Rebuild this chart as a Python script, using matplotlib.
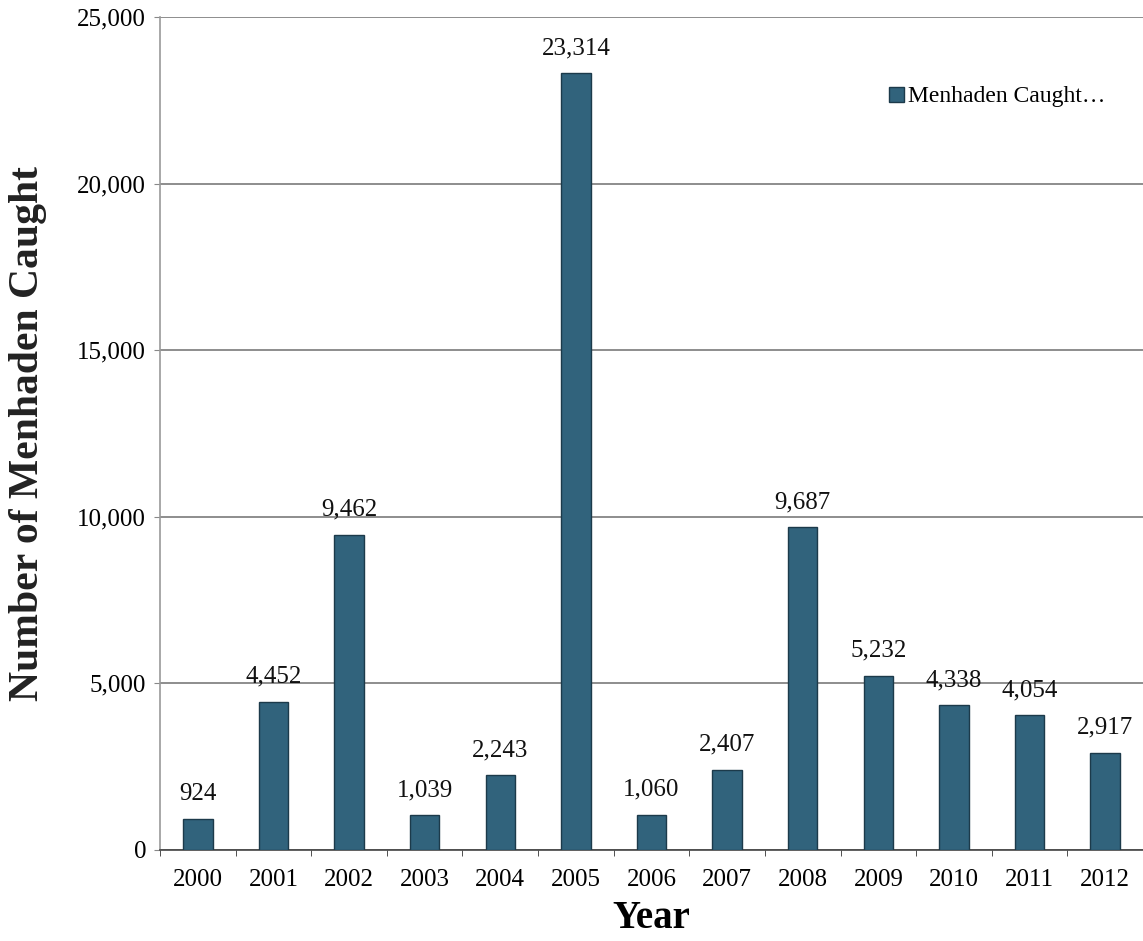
import matplotlib
matplotlib.use("Agg")
import matplotlib.pyplot as plt
import numpy as np

plt.rcParams["font.family"] = ["Liberation Serif", "DejaVu Serif"]

years = ["2000", "2001", "2002", "2003", "2004", "2005", "2006",
         "2007", "2008", "2009", "2010", "2011", "2012"]
caught = [924, 4452, 9462, 1039, 2243, 23314, 1060,
          2407, 9687, 5232, 4338, 4054, 2917]
y_ticks = [0, 5000, 10000, 15000, 20000, 25000]

BAR_COLOR = "#31637c"

fig = plt.figure(figsize=(11.43, 9.41), dpi=100)
ax = fig.add_axes([160 / 1143, 1 - 850 / 941, 1 - 160 / 1143, (850 - 17) / 941])

x = np.arange(len(years))
ax.bar(x, caught, width=0.39, color=BAR_COLOR, edgecolor="#1c3a4a",
       linewidth=1.0, label="Menhaden Caught\u2026", zorder=3)

for xi, v in zip(x, caught):
    ax.annotate(f"{v:,}", (xi, v), xytext=(0, 10), textcoords="offset points",
                ha="center", va="bottom", fontsize=18, color="#111111", zorder=4)

ax.set_xlim(-0.5, 12.4)
ax.set_ylim(0, 25000)
ax.set_yticks(y_ticks)
ax.set_yticklabels([f"{t:,}" for t in y_ticks])
ax.set_xticks(x)
ax.set_xticklabels(years)
ax.set_xticks(np.arange(-0.5, 13, 1.0), minor=True)
ax.tick_params(axis="x", which="major", length=0, labelsize=18, pad=14)
ax.tick_params(axis="x", which="minor", length=4, color="#333333", direction="out")
ax.tick_params(axis="y", length=4, color="#888888", labelsize=18, pad=6)

ax.grid(axis="y", color="#7a7a7a", linewidth=1.2, zorder=1)
for side in ["top", "right"]:
    ax.spines[side].set_visible(False)
ax.spines["left"].set_color("#9a9a9a")
ax.spines["left"].set_linewidth(1.2)
ax.spines["bottom"].set_color("#444444")
ax.spines["bottom"].set_linewidth(1.2)

ax.set_xlabel("Year", fontsize=28, fontweight="bold", labelpad=6)
ax.set_ylabel("Number of Menhaden Caught", fontsize=30, fontweight="bold",
              color="#222222", labelpad=22)

ax.legend(loc="center right", bbox_to_anchor=(0.962, 0.904), fontsize=17,
          frameon=False, handlelength=0.6, handleheight=0.6,
          handletextpad=0.2, borderpad=0, borderaxespad=0)

fig.savefig("out.png", dpi=100)
